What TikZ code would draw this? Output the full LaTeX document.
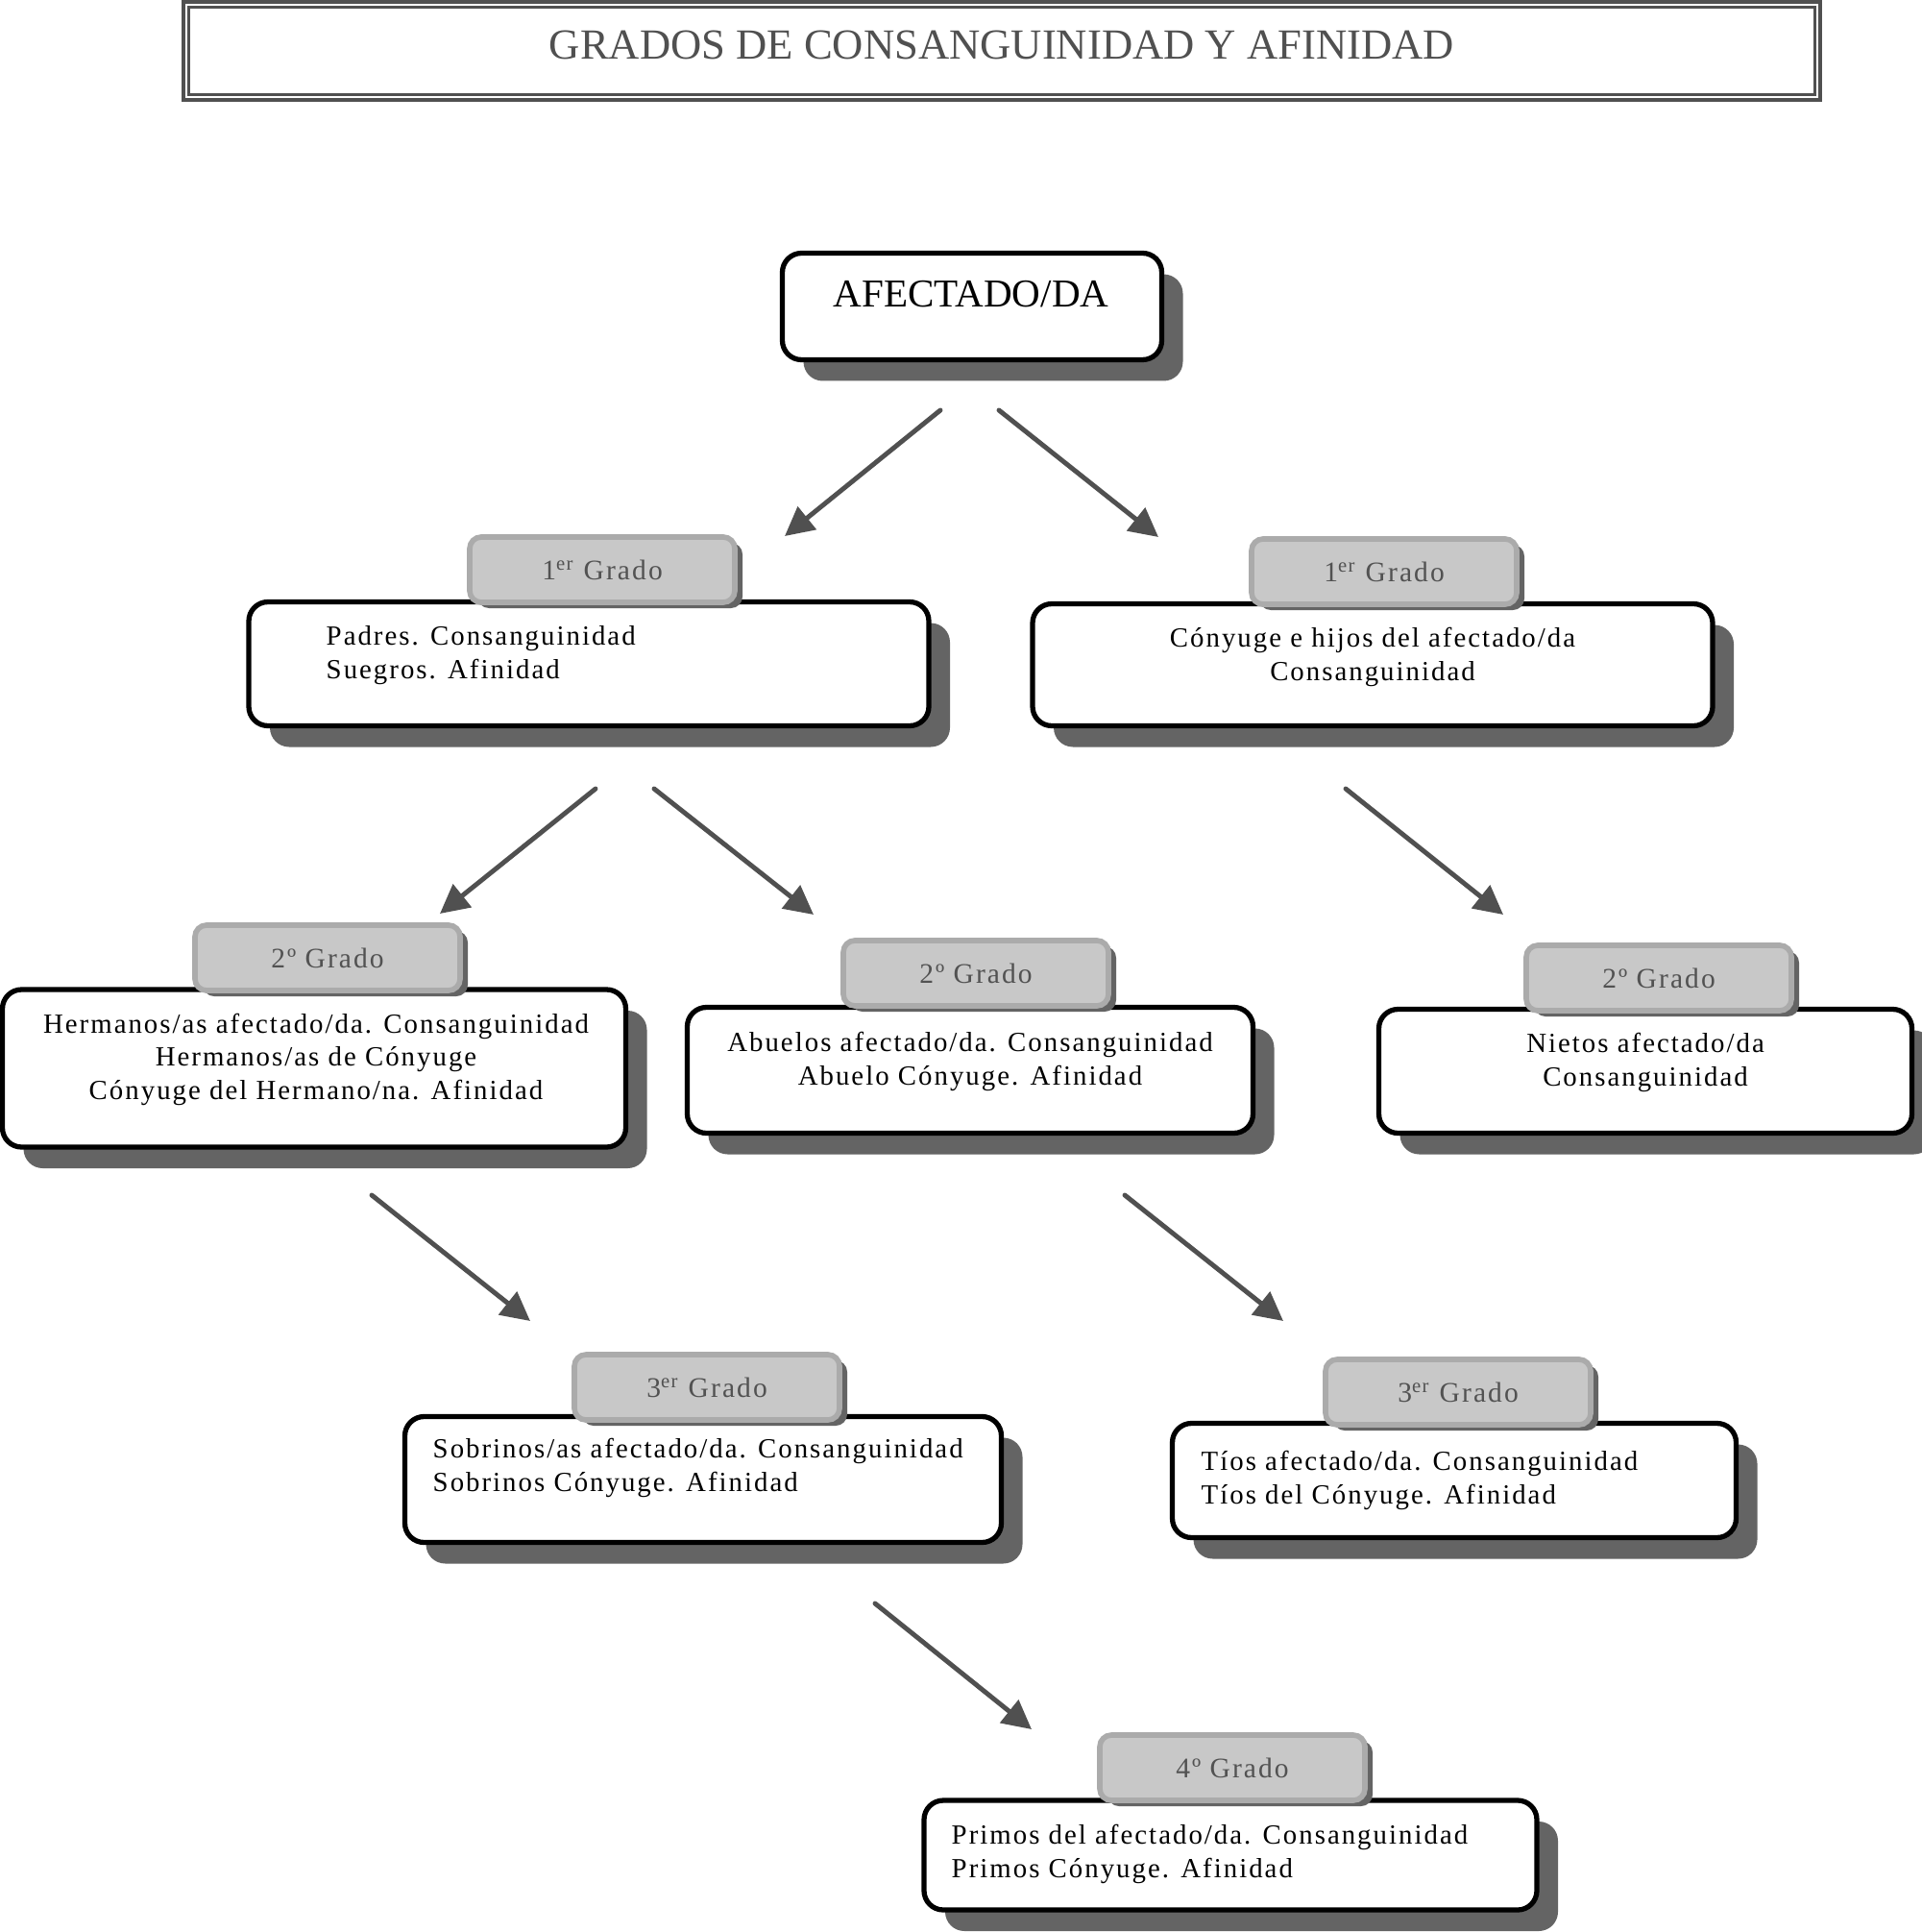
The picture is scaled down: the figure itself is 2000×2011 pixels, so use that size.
\documentclass[tikz,border=0pt]{standalone}
\usepackage{fontspec}
\setmainfont{Liberation Serif}
\newfontfamily\spaced[LetterSpace=7]{Liberation Serif}
\usetikzlibrary{arrows.meta,shadows}
\definecolor{linegray}{HTML}{505050}
\definecolor{shadowgray}{HTML}{646464}
\definecolor{tabgray}{HTML}{C8C8C8}
\definecolor{tabrim}{HTML}{ABABAB}
\begin{document}
\begin{tikzpicture}
    [x=0.1mm,y=-0.1mm,
     box/.style={rectangle,draw=black,line width=1.5pt,fill=white,rounded corners=2mm,
       drop shadow={shadow xshift=2.2mm,shadow yshift=-2.2mm,fill=shadowgray,opacity=1},
       inner sep=0pt},
     tab/.style={rectangle,draw=tabrim,line width=1.6pt,fill=tabgray,rounded corners=1.2mm,
       minimum width=27.6mm,minimum height=6.8mm,inner sep=0pt,
       drop shadow={shadow xshift=0.8mm,shadow yshift=-0.6mm,fill=shadowgray,opacity=1},
       font=\spaced\fontsize{8.4pt}{10pt}\selectfont,text=black!68},
     txt/.style={inner sep=0pt,font=\spaced\fontsize{8.2pt}{9.8pt}\selectfont},
     arr/.style={draw=linegray,line width=1.4pt,line cap=round,
       -{Triangle[length=3mm,width=3mm]}}]
    \useasboundingbox (0,0) rectangle (2000,2011);
    % title
    \node[rectangle,draw=linegray,line width=1.4pt,minimum width=170.4mm,minimum height=10.2mm,inner sep=0pt]
        (title) at (1043,53) {};
    \draw[linegray,line width=0.8pt] ([shift={(8,8)}]title.north west) rectangle ([shift={(-8,-8)}]title.south east);
    \node[inner sep=0pt,anchor=base,text=linegray,font=\fontsize{12.7pt}{15pt}\selectfont]
        (titletxt) at (1043,62) {GRADOS DE CONSANGUINIDAD Y AFINIDAD};
    % boxes
    \node[box,minimum width=39.5mm,minimum height=11.1mm] (afe) at (1012,319) {};
    \node[box,minimum width=70.8mm,minimum height=12.9mm] (padres) at (613,691) {};
    \node[box,minimum width=70.8mm,minimum height=12.7mm] (conyuge) at (1429,692) {};
    \node[box,minimum width=64.9mm,minimum height=16.4mm] (hermanos) at (327,1112) {};
    \node[box,minimum width=58.9mm,minimum height=13.1mm] (abuelos) at (1010,1114) {};
    \node[box,minimum width=55.5mm,minimum height=12.9mm] (nietos) at (1713,1115) {};
    \node[box,minimum width=62.1mm,minimum height=13.1mm] (sobrinos) at (732,1540) {};
    \node[box,minimum width=58.7mm,minimum height=11.9mm] (tios) at (1514,1541) {};
    \node[box,minimum width=63.8mm,minimum height=11.4mm] (primos) at (1281,1931) {};
    % tabs
    \node[tab] (g1a) at (627,593) {1\textsuperscript{er} Grado};
    \node[tab] (g1b) at (1441,595) {1\textsuperscript{er} Grado};
    \node[tab] (g2a) at (341,997) {2º Grado};
    \node[tab] (g2b) at (1016,1013) {2º Grado};
    \node[tab] (g2c) at (1727,1018) {2º Grado};
    \node[tab] (g3a) at (736,1444) {3\textsuperscript{er} Grado};
    \node[tab] (g3b) at (1518,1449) {3\textsuperscript{er} Grado};
    \node[tab] (g4) at (1283,1840) {4º Grado};
    % texts (base = last line)
    \node[inner sep=0pt,anchor=base,font=\fontsize{11.7pt}{14pt}\selectfont] (afetxt) at (1011,320) {AFECTADO/DA};
    \node[txt,anchor=base west,align=left] (padrestxt) at (339,706)
        {Padres. Consanguinidad\\Suegros. Afinidad};
    \node[txt,anchor=base,align=center] (conyugetxt) at (1429,708)
        {Cónyuge e hijos del afectado/da\\Consanguinidad};
    \node[txt,anchor=base,align=center] (hermanostxt) at (329,1144)
        {Hermanos/as afectado/da. Consanguinidad\\Hermanos/as de Cónyuge\\Cónyuge del Hermano/na. Afinidad};
    \node[txt,anchor=base,align=center] (abuelostxt) at (1010,1129)
        {Abuelos afectado/da. Consanguinidad\\Abuelo Cónyuge. Afinidad};
    \node[txt,anchor=base,align=center] (nietostxt) at (1713,1130)
        {Nietos afectado/da\\Consanguinidad};
    \node[txt,anchor=base west,align=left] (sobrinostxt) at (450,1552)
        {Sobrinos/as afectado/da. Consanguinidad\\Sobrinos Cónyuge. Afinidad};
    \node[txt,anchor=base west,align=left] (tiostxt) at (1250,1565)
        {Tíos afectado/da. Consanguinidad\\Tíos del Cónyuge. Afinidad};
    \node[txt,anchor=base west,align=left] (primostxt) at (990,1954)
        {Primos del afectado/da. Consanguinidad\\Primos Cónyuge. Afinidad};
    % arrows
    \coordinate (a1s) at (979,427);   \coordinate (a1e) at (817,558);
    \coordinate (a2s) at (1040,427);  \coordinate (a2e) at (1206,559);
    \coordinate (a3s) at (620,821);   \coordinate (a3e) at (458,951);
    \coordinate (a4s) at (681,821);   \coordinate (a4e) at (847,952);
    \coordinate (a5s) at (1401,821);  \coordinate (a5e) at (1565,952);
    \coordinate (a6s) at (387,1244);  \coordinate (a6e) at (552,1375);
    \coordinate (a7s) at (1171,1244); \coordinate (a7e) at (1336,1375);
    \coordinate (a8s) at (911,1669);  \coordinate (a8e) at (1074,1800);
    \foreach \i in {1,...,8}
        \draw[arr] (a\i s) -- (a\i e);
\end{tikzpicture}
\end{document}
